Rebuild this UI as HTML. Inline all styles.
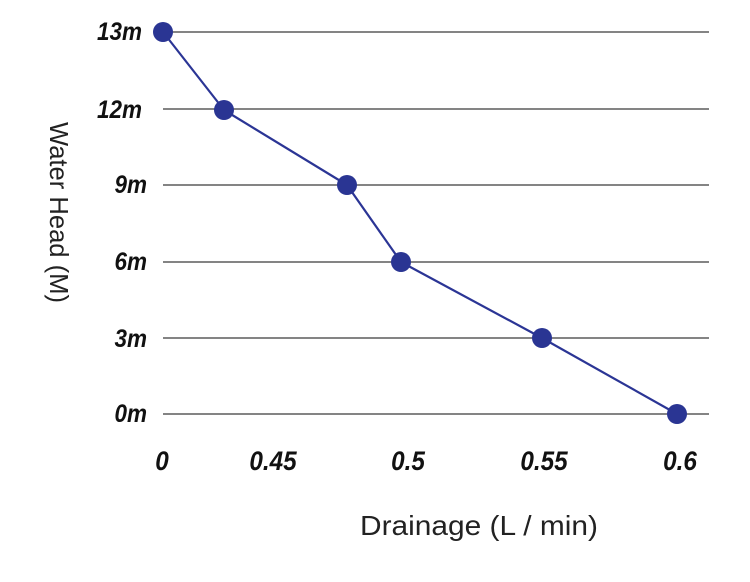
<!DOCTYPE html>
<html>
<head>
<meta charset="utf-8">
<style>
  html, body { margin: 0; padding: 0; background: #fff; }
  body { width: 750px; height: 582px; overflow: hidden; }
  svg { display: block; }
  .yl { font-family: "Liberation Sans", Arial, sans-serif; font-weight: bold; font-style: italic; font-size: 25px; fill: #111; }
  .xl { font-family: "Liberation Sans", Arial, sans-serif; font-weight: bold; font-style: italic; font-size: 27px; fill: #111; }
  .t { font-family: "Liberation Sans", Arial, sans-serif; fill: #222; }
</style>
</head>
<body>
<svg width="750" height="582" viewBox="0 0 750 582" xmlns="http://www.w3.org/2000/svg">
  <rect width="750" height="582" fill="#fff"/>
  <!-- gridlines -->
  <g stroke="#3a3a3a" stroke-width="1.3">
    <line x1="163" y1="32" x2="709" y2="32"/>
    <line x1="163" y1="109" x2="709" y2="109"/>
    <line x1="163" y1="185" x2="709" y2="185"/>
    <line x1="163" y1="262" x2="709" y2="262"/>
    <line x1="163" y1="338" x2="709" y2="338"/>
    <line x1="163" y1="414" x2="709" y2="414"/>
  </g>
  <!-- y labels -->
  <g class="yl" text-anchor="end">
    <text transform="translate(142,40) scale(0.9,1)">13m</text>
    <text transform="translate(142,118) scale(0.9,1)">12m</text>
    <text transform="translate(147,193) scale(0.9,1)">9m</text>
    <text transform="translate(147,270) scale(0.9,1)">6m</text>
    <text transform="translate(147,347) scale(0.9,1)">3m</text>
    <text transform="translate(147,422) scale(0.9,1)">0m</text>
  </g>
  <!-- x labels -->
  <g class="xl" text-anchor="middle">
    <text transform="translate(162,470) scale(0.9,1)">0</text>
    <text transform="translate(273,470) scale(0.9,1)">0.45</text>
    <text transform="translate(408,470) scale(0.9,1)">0.5</text>
    <text transform="translate(544,470) scale(0.9,1)">0.55</text>
    <text transform="translate(680,470) scale(0.9,1)">0.6</text>
  </g>
  <!-- series -->
  <polyline points="163,32 224,110 347,185 401,262 542,338 677,414" fill="none" stroke="#2b3595" stroke-width="2.2" stroke-linejoin="round"/>
  <g fill="#2a3593">
    <circle cx="163" cy="32" r="10"/>
    <circle cx="224" cy="110" r="10"/>
    <circle cx="347" cy="185" r="10"/>
    <circle cx="401" cy="262" r="10"/>
    <circle cx="542" cy="338" r="10"/>
    <circle cx="677" cy="414" r="10"/>
  </g>
  <!-- axis titles -->
  <text class="t" x="360" y="535" font-size="28" textLength="238" lengthAdjust="spacingAndGlyphs">Drainage (L / min)</text>
  <text class="t" transform="translate(50,122) rotate(90)" x="0" y="0" font-size="26" textLength="181" lengthAdjust="spacingAndGlyphs">Water Head (M)</text>
</svg>
</body>
</html>
